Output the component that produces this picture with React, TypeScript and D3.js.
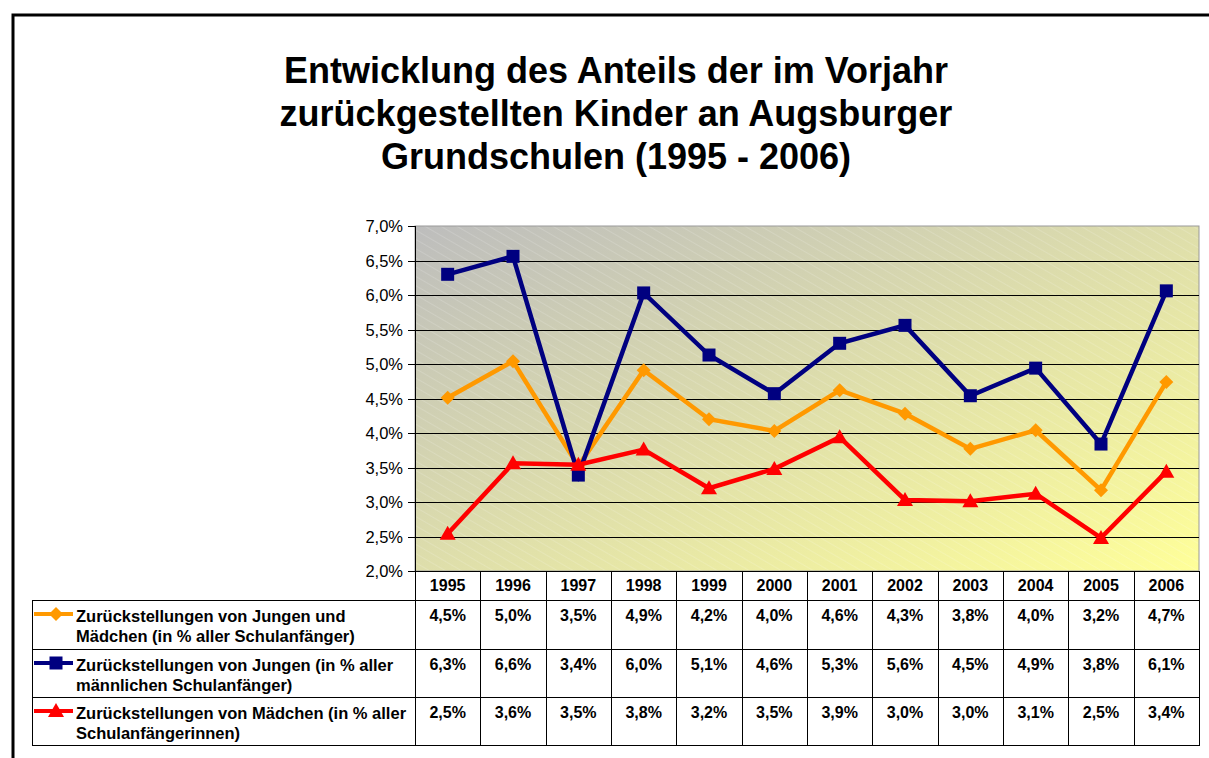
import React from "react";
import * as d3 from "d3";

const years = ["1995", "1996", "1997", "1998", "1999", "2000", "2001", "2002", "2003", "2004", "2005", "2006"];
const allValues = [4.51, 5.04, 3.52, 4.91, 4.2, 4.03, 4.62, 4.28, 3.77, 4.04, 3.17, 4.74];
const boysValues = [6.3, 6.56, 3.39, 6.03, 5.13, 4.57, 5.3, 5.56, 4.54, 4.94, 3.84, 6.06];
const girlsValues = [2.54, 3.56, 3.54, 3.76, 3.2, 3.48, 3.94, 3.03, 3.01, 3.12, 2.48, 3.44];
const yTicks = [2, 2.5, 3, 3.5, 4, 4.5, 5, 5.5, 6, 6.5, 7];
const titleLines = [
  "Entwicklung des Anteils der im Vorjahr",
  "zurückgestellten Kinder an Augsburger",
  "Grundschulen (1995 - 2006)",
];

const series = [
  { name: ["Zurückstellungen von Jungen und", "Mädchen (in % aller Schulanfänger)"], values: allValues, color: "#ff9900", marker: "diamond" },
  { name: ["Zurückstellungen von Jungen (in % aller", "männlichen Schulanfänger)"], values: boysValues, color: "#000080", marker: "square" },
  { name: ["Zurückstellungen von Mädchen (in % aller", "Schulanfängerinnen)"], values: girlsValues, color: "#ff0000", marker: "triangle" },
];

const fmt = (v: number) => d3.format(".1f")(v).replace(".", ",") + "%";
const font = "'Liberation Sans', Arial, sans-serif";

function Marker({ type, x, y, color }: { type: string; x: number; y: number; color: string }) {
  if (type === "square") return <rect x={x - 6.5} y={y - 6.5} width={13} height={13} fill={color} />;
  if (type === "diamond") return <path d={`M${x},${y - 7}L${x + 7},${y}L${x},${y + 7}L${x - 7},${y}Z`} fill={color} />;
  return <path d={`M${x},${y - 8}L${x + 8},${y + 6}L${x - 8},${y + 6}Z`} fill={color} />;
}

export default function App() {
  const left = 415, right = 1199, top = 226, bottom = 571;
  const x = d3.scaleBand().domain(years).range([left, right]);
  const y = d3.scaleLinear().domain([2, 7]).range([bottom, top]);
  const cx = (d: string) => (x(d) as number) + x.bandwidth() / 2;
  const rowTops = [600, 649, 697];
  const tableLeft = 32;
  const tableBottom = 745;

  return (
    <svg width={1209} height={758} style={{ position: "absolute", left: 0, top: 0 }} fontFamily={font}>
      <defs>
        <linearGradient id="bg" x1="0" y1="0" x2="1" y2="1">
          <stop offset="0" stopColor="#bdbdbd" />
          <stop offset="1" stopColor="#ffff99" />
        </linearGradient>
        <pattern id="hatch" width={8} height={8} patternUnits="userSpaceOnUse" patternTransform="rotate(-60)">
          <line x1={0} y1={0} x2={0} y2={8} stroke="#ffffff" strokeWidth={1} strokeOpacity={0.3} />
        </pattern>
      </defs>
      <rect width={1209} height={758} fill="#fff" />
      <path d="M13,758V15H1209" fill="none" stroke="#000" strokeWidth={3} />

      {titleLines.map((t, i) => (
        <text key={i} x={616} y={83 + i * 43} textAnchor="middle" fontSize={36} fontWeight="bold">{t}</text>
      ))}

      <rect x={left} y={top} width={right - left} height={bottom - top} fill="url(#bg)" />
      <rect x={left} y={top} width={right - left} height={bottom - top} fill="url(#hatch)" />
      <rect x={left} y={top} width={right - left} height={bottom - top} fill="none" stroke="#999" strokeWidth={1} />

      {yTicks.map((t) => (
        <g key={t}>
          {t > 2 && t < 7 && <line x1={left} x2={right} y1={Math.round(y(t)) + 0.5} y2={Math.round(y(t)) + 0.5} stroke="#000" strokeWidth={1} />}
          <line x1={left - 7} x2={left} y1={Math.round(y(t)) + 0.5} y2={Math.round(y(t)) + 0.5} stroke="#000" />
          <text x={left - 12} y={y(t) + 6} textAnchor="end" fontSize={16.5}>{fmt(t)}</text>
        </g>
      ))}
      <line x1={left + 0.5} x2={left + 0.5} y1={top} y2={tableBottom} stroke="#000" />

      {series.map((s, si) => {
        const line = d3.line<number>().x((_, i) => cx(years[i])).y((v) => y(v));
        return (
          <g key={si}>
            <path d={line(s.values) as string} fill="none" stroke={s.color} strokeWidth={4.5} strokeLinejoin="miter" />
            {s.values.map((v, i) => (
              <Marker key={i} type={s.marker} x={cx(years[i])} y={y(v)} color={s.color} />
            ))}
          </g>
        );
      })}

      {/* data table */}
      {years.map((yr) => (
        <text key={yr} x={cx(yr)} y={591} textAnchor="middle" fontSize={16} fontWeight="bold">{yr}</text>
      ))}
      {years.map((yr) => (
        <line key={yr} x1={Math.round((x(yr) as number) + x.bandwidth()) + 0.5} x2={Math.round((x(yr) as number) + x.bandwidth()) + 0.5} y1={bottom} y2={tableBottom} stroke="#000" />
      ))}
      <line x1={tableLeft + 0.5} x2={tableLeft + 0.5} y1={rowTops[0]} y2={tableBottom} stroke="#000" />
      {[...rowTops, tableBottom].map((ry) => (
        <line key={ry} x1={tableLeft} x2={right + 1} y1={ry + 0.5} y2={ry + 0.5} stroke="#000" />
      ))}
      <line x1={left} x2={right + 1} y1={bottom + 0.5} y2={bottom + 0.5} stroke="#000" />

      {series.map((s, si) => (
        <g key={si}>
          <line x1={34} x2={73} y1={rowTops[si] + 14} y2={rowTops[si] + 14} stroke={s.color} strokeWidth={4} />
          <Marker type={s.marker} x={56} y={rowTops[si] + 14} color={s.color} />
          {s.name.map((n, li) => (
            <text key={li} x={76} y={rowTops[si] + 22 + li * 20} fontSize={16.5} fontWeight="bold">{n}</text>
          ))}
          {s.values.map((v, i) => (
            <text key={i} x={cx(years[i])} y={rowTops[si] + 21} textAnchor="middle" fontSize={16} fontWeight="bold">{fmt(v)}</text>
          ))}
        </g>
      ))}
    </svg>
  );
}
